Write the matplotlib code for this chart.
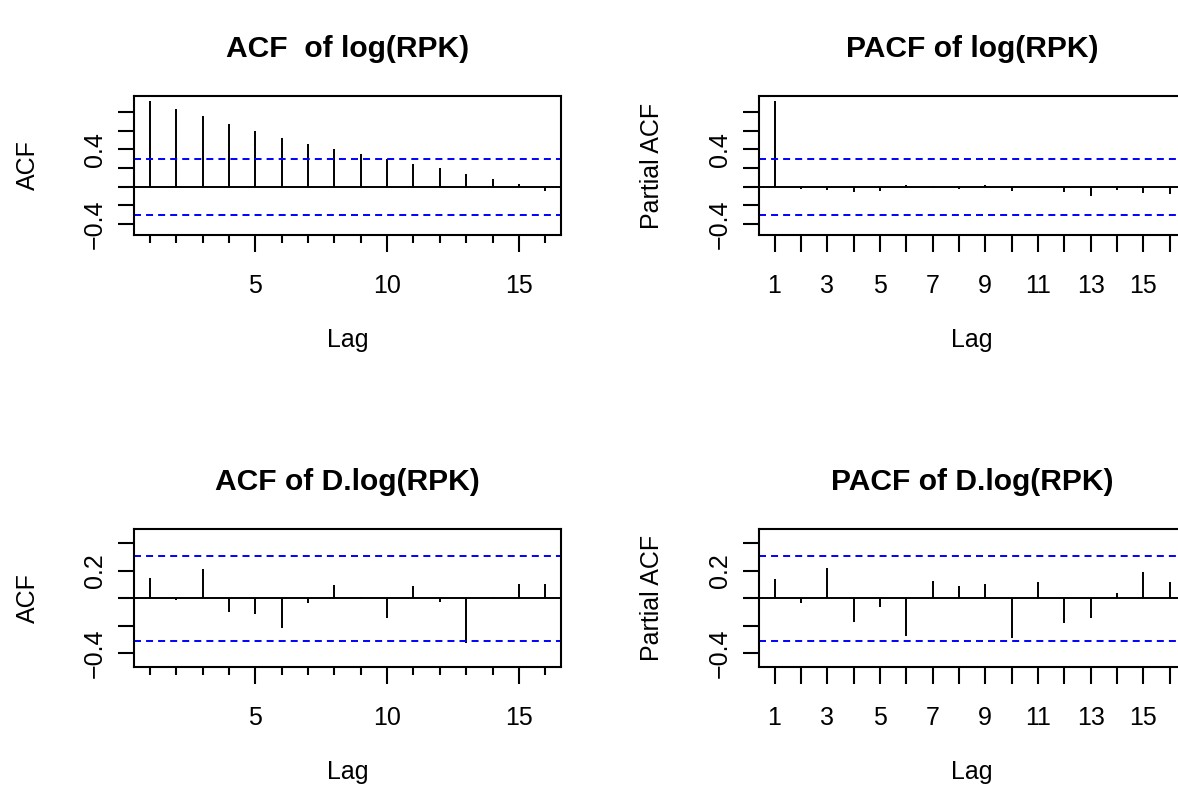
import matplotlib
matplotlib.use("Agg")
import matplotlib.pyplot as plt
from matplotlib.ticker import FixedLocator, NullFormatter
import numpy as np

# ---- data ----
lags = list(range(1, 17))
acf_log = [0.921, 0.835, 0.760, 0.677, 0.595, 0.523, 0.459, 0.401, 0.351, 0.294,
           0.247, 0.197, 0.136, 0.082, 0.025, -0.047]
pacf_log = [0.921, -0.025, -0.040, -0.061, -0.050, 0.018, 0.004, -0.029, 0.018,
            -0.043, -0.018, -0.057, -0.100, -0.032, -0.068, -0.079]
acf_dlog = [0.145, -0.012, 0.213, -0.102, -0.114, -0.218, -0.032, 0.099, 0.012,
            -0.145, 0.090, -0.027, -0.325, 0.012, 0.104, 0.104]
pacf_dlog = [0.143, -0.034, 0.221, -0.175, -0.061, -0.274, 0.126, 0.090, 0.104,
             -0.291, 0.119, -0.182, -0.145, 0.041, 0.192, 0.116]
conf_log = 0.301
conf_dlog = 0.310

titles = ["ACF  of log(RPK)", "PACF of log(RPK)", "ACF of D.log(RPK)", "PACF of D.log(RPK)"]
ylabels = ["ACF", "Partial ACF", "ACF", "Partial ACF"]

plt.rcParams['font.family'] = ['Liberation Sans', 'DejaVu Sans']

W, H = 1178, 797
fig = plt.figure(figsize=(W / 100, H / 100), dpi=100)

def px_axes(x0, y0, x1, y1):
    return [x0 / W, 1 - y1 / H, (x1 - x0) / W, (y1 - y0) / H]

panels = [
    dict(rect=px_axes(134.3, 96, 561, 235), vals=acf_log, conf=conf_log,
         ylim=(-0.520, 0.975), yt=[-0.4, -0.2, 0, 0.2, 0.4, 0.6, 0.8],
         ylab={0.4: "0.4", -0.4: "\u22120.4"}, kind="acf"),
    dict(rect=px_axes(758.7, 96, 1185.4, 235), vals=pacf_log, conf=conf_log,
         ylim=(-0.520, 0.975), yt=[-0.4, -0.2, 0, 0.2, 0.4, 0.6, 0.8],
         ylab={0.4: "0.4", -0.4: "\u22120.4"}, kind="pacf"),
    dict(rect=px_axes(134.3, 529, 561, 666.7), vals=acf_dlog, conf=conf_dlog,
         ylim=(-0.497, 0.504), yt=[-0.4, -0.2, 0, 0.2, 0.4],
         ylab={0.2: "0.2", -0.4: "\u22120.4"}, kind="acf"),
    dict(rect=px_axes(758.7, 529, 1185.4, 666.7), vals=pacf_dlog, conf=conf_dlog,
         ylim=(-0.497, 0.504), yt=[-0.4, -0.2, 0, 0.2, 0.4],
         ylab={0.2: "0.2", -0.4: "\u22120.4"}, kind="pacf"),
]

FS = 18
LW = 1.4
for i, p in enumerate(panels):
    ax = fig.add_axes(p["rect"])
    ax.vlines(lags, 0, p["vals"], colors="black", linewidth=LW)
    ax.axhline(0, color="black", linewidth=LW)
    for c in (p["conf"], -p["conf"]):
        ax.axhline(c, color="#0000FF", linewidth=LW, linestyle=(0, (3.6, 2.6)))
    ax.set_xlim(0.4, 16.6)
    ax.set_ylim(*p["ylim"])
    for s in ax.spines.values():
        s.set_linewidth(1.5)
    # y axis
    ax.set_yticks(p["yt"])
    ax.set_yticklabels([p["ylab"].get(round(v, 1), "") for v in p["yt"]],
                       rotation=90, va="center", fontsize=FS)
    ax.tick_params(axis="y", direction="out", length=11.5, width=1.5, pad=8)
    # x axis
    if p["kind"] == "acf":
        ax.set_xticks([5, 10, 15])
        ax.set_xticklabels(["5", "10", "15"], fontsize=FS)
        ax.xaxis.set_minor_locator(FixedLocator(lags))
        ax.xaxis.set_minor_formatter(NullFormatter())
        ax.tick_params(axis="x", which="minor", direction="out", length=5.8, width=1.5)
    else:
        ax.set_xticks(lags)
        ax.set_xticklabels([str(l) if l % 2 == 1 else "" for l in lags], fontsize=FS)
    ax.tick_params(axis="x", which="major", direction="out", length=12, width=1.5, pad=16)
    ax.set_xlabel("Lag", fontsize=FS, labelpad=22)
    ax.set_ylabel(ylabels[i], fontsize=FS)
    ax.yaxis.set_label_coords(-0.222, 0.5)
    ax.set_title(titles[i], fontsize=21.6, fontweight="bold", pad=28)

fig.savefig("out.png", dpi=100)
